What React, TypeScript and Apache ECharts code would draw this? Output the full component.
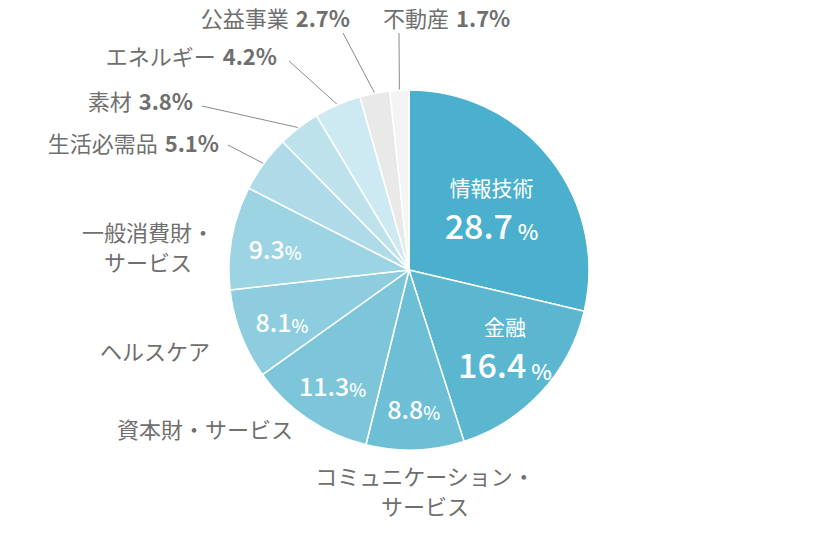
import { useEffect, useRef } from "react";
import * as echarts from "echarts";

// sector weights, clockwise from 12 o'clock
const sectors = [
  "情報技術",
  "金融",
  "コミュニケーション・サービス",
  "資本財・サービス",
  "ヘルスケア",
  "一般消費財・サービス",
  "生活必需品",
  "素材",
  "エネルギー",
  "公益事業",
  "不動産",
];
const shares = [28.7, 16.4, 8.8, 11.3, 8.1, 9.3, 5.1, 3.8, 4.2, 2.7, 1.7];

// how the outside names break over lines
const outerNames = [
  "",
  "",
  "コミュニケーション・\nサービス",
  "資本財・サービス",
  "ヘルスケア",
  "一般消費財・\nサービス",
  "生活必需品",
  "素材",
  "エネルギー",
  "公益事業",
  "不動産",
];

const palette = [
  "#4bb0cd",
  "#5bb7d0",
  "#6cbfd5",
  "#7dc6da",
  "#8dcddf",
  "#9dd4e3",
  "#aedbe7",
  "#bee2ec",
  "#cde9f1",
  "#e9e9e9",
  "#f4f4f4",
];

const FONT = '"Noto Sans CJK JP", "Noto Sans", sans-serif';
const GRAY = "#6f6f6f";

type OuterPos = { x: number; y: number; align: string; end?: number[] } | null;

// where the outside labels sit (and where their leader lines end)
const outerPos: OuterPos[] = [
  null,
  null,
  { x: 425, y: 490, align: "center" },
  { x: 205, y: 428, align: "center" },
  { x: 155, y: 350, align: "center" },
  { x: 148, y: 246, align: "center" },
  { x: 219, y: 142, align: "right", end: [228, 145] },
  { x: 193, y: 100, align: "right", end: [202, 106] },
  { x: 277, y: 55, align: "right", end: [289, 61] },
  { x: 350, y: 17, align: "right", end: [343, 33] },
  { x: 383, y: 17, align: "left", end: [399, 33] },
];

// nudges for the two big inside labels
const innerNudge: Record<number, number[]> = {
  0: [-24, 19],
  1: [-4, -18],
};

export default function App() {
  const chartRef = useRef<HTMLDivElement>(null);

  useEffect(() => {
    if (!chartRef.current) return;
    const chart = echarts.init(chartRef.current, undefined, { renderer: "svg" });

    const pieData = sectors.map((name, i) => ({
      name,
      value: shares[i],
      itemStyle: { color: palette[i] },
      label: { show: outerPos[i] !== null },
      labelLine: { show: !!outerPos[i]?.end },
    }));

    const overlayData = sectors.map((name, i) => ({
      name,
      value: shares[i],
      label: { show: shares[i] >= 8 },
    }));

    chart.setOption({
      animation: false,
      textStyle: { fontFamily: FONT },
      series: [
        {
          type: "pie",
          center: [409, 270],
          radius: 180,
          startAngle: 90,
          clockwise: true,
          avoidLabelOverlap: false,
          emphasis: { disabled: true },
          silent: true,
          itemStyle: { borderColor: "#ffffff", borderWidth: 1.5 },
          data: pieData,
          label: {
            position: "outside",
            fontFamily: FONT,
            formatter: (p: any) => {
              const i = p.dataIndex;
              if (shares[i] < 6) {
                return `{n|${outerNames[i]}}{v|${shares[i]}%}`;
              }
              return outerNames[i]
                .split("\n")
                .map((l) => `{n|${l}}`)
                .join("\n");
            },
            rich: {
              n: { fontSize: 22, color: GRAY, fontFamily: FONT, lineHeight: 30 },
              v: {
                fontSize: 22,
                color: GRAY,
                fontFamily: FONT,
                fontWeight: "bold",
                lineHeight: 30,
                padding: [0, 0, 0, 7],
              },
            },
          },
          labelLine: {
            show: true,
            length: 10,
            length2: 10,
            lineStyle: { color: "#8a8a8a", width: 1 },
          },
          labelLayout: (params: any) => {
            const p = outerPos[params.dataIndex];
            if (!p) return {};
            const out: any = {
              x: p.x,
              y: p.y,
              align: p.align,
              verticalAlign: "middle",
            };
            if (p.end && params.labelLinePoints) {
              const s = params.labelLinePoints[0];
              out.labelLinePoints = [
                s,
                [(s[0] + p.end[0]) / 2, (s[1] + p.end[1]) / 2],
                p.end,
              ];
            }
            return out;
          },
        },
        {
          type: "pie",
          center: [409, 270],
          radius: [86, 180],
          startAngle: 90,
          clockwise: true,
          silent: true,
          avoidLabelOverlap: false,
          emphasis: { disabled: true },
          itemStyle: { color: "rgba(0,0,0,0)", borderWidth: 0 },
          labelLine: { show: false },
          data: overlayData,
          label: {
            position: "inside",
            fontFamily: FONT,
            align: "center",
            formatter: (p: any) => {
              const i = p.dataIndex;
              if (shares[i] > 15) {
                return `{nm|${sectors[i]}}\n{big|${shares[i]}}{bp| %}`;
              }
              return `{sv|${shares[i]}}{sp|%}`;
            },
            rich: {
              nm: { fontSize: 21, color: "#fff", fontFamily: FONT, lineHeight: 37 },
              big: {
                fontSize: 34,
                color: "#fff",
                fontFamily: FONT,
                fontWeight: 500,
                verticalAlign: "bottom",
                lineHeight: 36,
              },
              bp: {
                fontSize: 22,
                color: "#fff",
                fontFamily: FONT,
                fontWeight: 500,
                verticalAlign: "bottom",
                lineHeight: 32,
              },
              sv: {
                fontSize: 25,
                color: "#fff",
                fontFamily: FONT,
                fontWeight: 500,
                verticalAlign: "bottom",
                lineHeight: 30,
              },
              sp: {
                fontSize: 18,
                color: "#fff",
                fontFamily: FONT,
                fontWeight: 500,
                verticalAlign: "bottom",
                lineHeight: 27,
              },
            },
          },
          labelLayout: (params: any) => {
            const n = innerNudge[params.dataIndex];
            return n ? { dx: n[0], dy: n[1] } : {};
          },
        },
      ],
    });

    return () => {
      chart.dispose();
    };
  }, []);

  return (
    <div
      ref={chartRef}
      style={{ position: "absolute", left: 0, top: 0, width: "820px", height: "540px" }}
    ></div>
  );
}
